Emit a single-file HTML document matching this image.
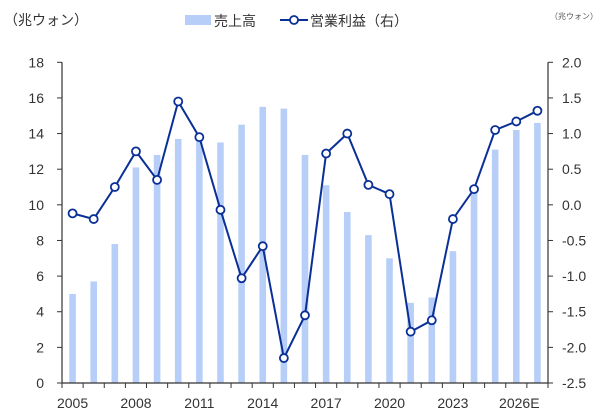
<!DOCTYPE html>
<html><head><meta charset="utf-8"><style>
html,body{margin:0;padding:0;background:#fff;}
svg{display:block;font-family:"Liberation Sans","Noto Sans CJK JP",sans-serif;}
</style></head><body>
<svg id="c" width="600" height="416" viewBox="0 0 600 416" xmlns="http://www.w3.org/2000/svg">
<text x="4" y="25" font-size="14" fill="#333">（兆ウォン）</text>
<rect x="185" y="15" width="26" height="10" fill="#b7cff8"/>
<text x="214" y="26" font-size="14" fill="#333">売上高</text>
<line x1="280" y1="20" x2="308" y2="20" stroke="#0a2f96" stroke-width="2"/>
<circle cx="294" cy="20" r="4" fill="#fff" stroke="#0a2f96" stroke-width="1.8"/>
<text x="310" y="26" font-size="14" fill="#333">営業利益（右）</text>
<text x="550" y="19" font-size="8" fill="#555">（兆ウォン）</text>
<g id="g"></g>
</svg>
<script>
var g=document.getElementById('g'),ns='http://www.w3.org/2000/svg';
function el(t,a,txt){var e=document.createElementNS(ns,t);for(var k in a)e.setAttribute(k,a[k]);if(txt!=null)e.textContent=txt;g.appendChild(e);return e;}
var X0=62,X1=548,Y0=383,Y18=62.3,n=23,w=(X1-X0)/n;
function yl(v){return Y0-(Y0-Y18)*v/18;}
function yr(v){return Y18+(2-v)*(Y0-Y18)/4.5;}
var s=[5.0,5.7,7.8,12.1,12.8,13.7,13.8,13.5,14.5,15.5,15.4,12.8,11.1,9.6,8.3,7.0,4.5,4.8,7.4,10.9,13.1,14.2,14.6];
var p=[-0.12,-0.2,0.25,0.75,0.35,1.45,0.95,-0.07,-1.03,-0.58,-2.15,-1.55,0.72,1.0,0.28,0.15,-1.78,-1.62,-0.2,0.22,1.05,1.17,1.32];
for(var i=0;i<n;i++){var cx=X0+w*(i+0.5);el('rect',{x:cx-3.3,y:yl(s[i]),width:6.6,height:Y0-yl(s[i]),fill:'#b7cff8'});}
el('line',{x1:X0,y1:Y18,x2:X0,y2:Y0,stroke:'#333','stroke-width':1.2});
el('line',{x1:X1,y1:Y18,x2:X1,y2:Y0,stroke:'#333','stroke-width':1.2});
el('line',{x1:X0,y1:Y0,x2:X1,y2:Y0,stroke:'#333','stroke-width':1.2});
for(var v=0;v<=18;v+=2){var y=yl(v);el('line',{x1:X0-5,y1:y,x2:X0,y2:y,stroke:'#333'});el('text',{x:44,y:y+5,'font-size':14,'text-anchor':'end',fill:'#333'},String(v));}
for(var j=0;j<=9;j++){var v2=2-j*0.5,y=yr(v2);el('line',{x1:X1,y1:y,x2:X1+5,y2:y,stroke:'#333'});el('text',{x:562,y:y+5,'font-size':14,fill:'#333'},v2.toFixed(1));}
for(var i=0;i<=n;i++){var x=X0+w*i;el('line',{x1:x,y1:Y0,x2:x,y2:Y0+5,stroke:'#333'});}
var lab=['2005','2008','2011','2014','2017','2020','2023','2026E'];
for(var k=0;k<lab.length;k++){var cx=X0+w*(k*3+0.5);el('text',{x:cx+(k==7?3:0),y:408,'font-size':14,'text-anchor':'middle',fill:'#333'},lab[k]);}
var pts=p.map(function(v,i){return (X0+w*(i+0.5)).toFixed(1)+','+yr(v).toFixed(1);}).join(' ');
el('polyline',{points:pts,fill:'none',stroke:'#0a2f96','stroke-width':2});
p.forEach(function(v,i){el('circle',{cx:X0+w*(i+0.5),cy:yr(v),r:4,fill:'#fff',stroke:'#0a2f96','stroke-width':1.8});});
</script>
</body></html>
